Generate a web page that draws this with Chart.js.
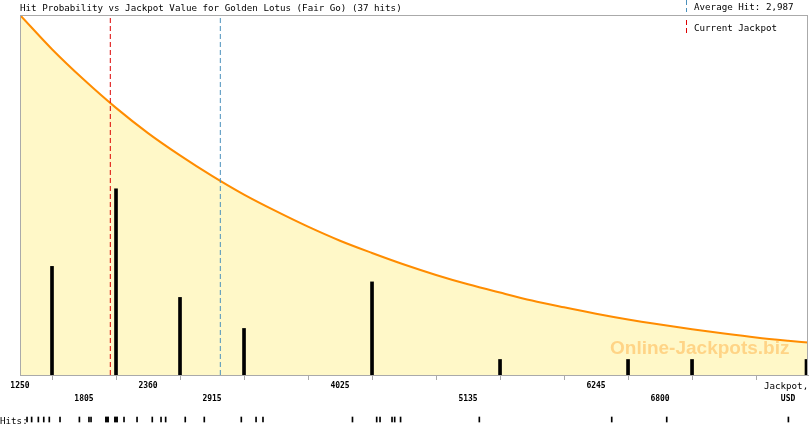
<!DOCTYPE html>
<html>
<head>
<meta charset="utf-8">
<script src="https://cdn.jsdelivr.net/npm/chart.js@4.4.0/dist/chart.umd.min.js"></script>
<style>
html,body{margin:0;padding:0;background:#fff;}
#wrap{width:810px;height:425px;position:relative;}
</style>
</head>
<body>
<div id="wrap"><canvas id="c" width="810" height="425"></canvas></div>
<script>
// ---- data ----
const titleText = 'Hit Probability vs Jackpot Value for Golden Lotus (Fair Go) (37 hits)';
const averageHit = 2987;
const currentJackpot = 2033;
const xMin = 1250, xMax = 8083;
const tickValues = [1250,1805,2360,2915,3470,4025,4580,5135,5690,6245,6800,7355,7910];
const tickLabels = ['1250','1805','2360','2915','','4025','','5135','','6245','6800','','USD'];
const tickRows   = [1,2,1,2,0,1,0,2,0,1,2,0,2];
const binCenters = [1527.5,2082.5,2637.5,3192.5,4302.5,5412.5,6522.5,7077.5,8070];
const binHits    = [7,12,5,3,6,1,1,1,1];
const curveX = [1250,1527.5,1805,2082.5,2360,2637.5,2915,3192.5,3470,3747.5,4025,4302.5,4580,4857.5,5135,5412.5,5690,5967.5,6245,6522.5,6800,7077.5,7355,7632.5,7910,8083];
const curveP = [1.000,0.905,0.820,0.742,0.672,0.610,0.553,0.501,0.455,0.412,0.373,0.339,0.307,0.278,0.252,0.229,0.207,0.188,0.170,0.154,0.140,0.127,0.115,0.104,0.095,0.090];
const hitValues = [1311,1351,1409,1456,1504,1597,1765,1848,1866,1996,1996,2013,2013,2074,2074,2091,2091,2152,2265,2397,2473,2513,2683,2848,3169,3297,3357,4133,4343,4372,4476,4499,4550,5233,6381,6858,7913];

const HIT_MARK = [-0.1167, -0.1306]; // probability-axis span of the hit strip marks (below the plot)
const BAR_MAX = 23.2;

const overlay = {
  id:'overlay',
  afterDatasetDraw(chart, args){
    if (args.index !== 0) return;
    const ctx = chart.ctx;
    ctx.save();
    ctx.font = 'bold 19px "Liberation Sans", Arial, sans-serif';
    ctx.fillStyle = '#FFD486';
    ctx.textAlign = 'left'; ctx.textBaseline = 'alphabetic';
    ctx.fillText('Online-Jackpots.biz', 610, 354);
    ctx.restore();
  },
  afterDraw(chart){
    const ctx = chart.ctx, a = chart.chartArea, xs = chart.scales.x;
    ctx.save();
    ctx.strokeStyle = '#AAAAAA'; ctx.lineWidth = 1;
    ctx.strokeRect(Math.round(a.left)+0.5, Math.round(a.top)+0.5, Math.round(a.right-a.left)-1, Math.round(a.bottom-a.top));
    ctx.fillStyle = '#000';
    ctx.font = '9.2px "DejaVu Sans Mono", monospace';
    ctx.textBaseline = 'alphabetic'; ctx.textAlign = 'left';
    ctx.fillText(titleText, 20, 11);
    ctx.fillText('Average Hit: ' + averageHit.toLocaleString('en-US'), 694, 10);
    ctx.fillText('Current Jackpot', 694, 31);
    ctx.fillText('Hits:', 0, 424);
    ctx.textAlign = 'center';
    ctx.fillText('Jackpot,', xs.getPixelForValue(tickValues[tickValues.length-1]) - 2, 389);
    // legend markers
    ctx.lineWidth = 1;
    ctx.setLineDash([5,3]);
    ctx.strokeStyle = '#4A90BC';
    ctx.beginPath(); ctx.moveTo(686.5, 0); ctx.lineTo(686.5, 12); ctx.stroke();
    ctx.strokeStyle = '#DD0000';
    ctx.beginPath(); ctx.moveTo(686.5, 20); ctx.lineTo(686.5, 34); ctx.stroke();
    ctx.restore();
  }
};

new Chart(document.getElementById('c'), {
  type: 'bar',
  data: {
    datasets: [
      {
        type:'line', label:'curve', order:3, yAxisID:'yp',
        data: curveX.map((x,i)=>({x:x, y:curveP[i]})),
        borderColor:'#FF8C00', borderWidth:2, backgroundColor:'#FFF8C8',
        fill:'origin', pointRadius:0, tension:0.4, cubicInterpolationMode:'monotone'
      },
      {
        type:'bar', label:'hits per bin', order:2, yAxisID:'y', grouped:false,
        data: binCenters.map((x,i)=>({x:x, y:binHits[i]})),
        backgroundColor:'#000', barThickness:3, borderWidth:0
      },
      {
        type:'line', label:'current', order:1, yAxisID:'yp',
        data:[{x:currentJackpot,y:0},{x:currentJackpot,y:1}],
        borderColor:'#DD0000', borderWidth:1, borderDash:[5,3], pointRadius:0, fill:false
      },
      {
        type:'line', label:'average', order:1, yAxisID:'yp',
        data:[{x:averageHit,y:0},{x:averageHit,y:1}],
        borderColor:'#4A90BC', borderWidth:1, borderDash:[5,3], pointRadius:0, fill:false
      },
      {
        type:'bar', label:'hits', order:0, yAxisID:'yp', clip:false, grouped:false,
        data: hitValues.map(v=>({x:v, y:HIT_MARK})),
        backgroundColor:'#000', barThickness:1, borderWidth:0
      }
    ]
  },
  options: {
    responsive:false, animation:false, devicePixelRatio:1,
    layout:{padding:{left:20, right:2, top:15, bottom:0}},
    plugins:{legend:{display:false}, tooltip:{enabled:false}, title:{display:false}},
    scales:{
      x:{
        type:'linear', min:xMin, max:xMax, offset:false,
        afterBuildTicks(s){ s.ticks = tickValues.map(v=>({value:v})); },
        afterFit(s){ s.height = 50; s.paddingLeft = 0; s.paddingRight = 0; },
        grid:{drawOnChartArea:false, drawTicks:true, tickLength:5, color:'#AAAAAA'},
        border:{display:true, color:'#AAAAAA'},
        ticks:{
          autoSkip:false, maxRotation:0, minRotation:0, padding:-1, color:'#000',
          font:{family:'"DejaVu Sans Mono", monospace', size:8, weight:'bold', lineHeight:'13px'},
          callback(v, i){
            const r = tickRows[i], t = tickLabels[i];
            if (r===1) return [t, ''];
            if (r===2) return ['', t];
            return '';
          }
        }
      },
      y:{display:false, min:0, max:BAR_MAX},
      yp:{display:false, min:0, max:1}
    }
  },
  plugins:[overlay]
});
</script>
</body>
</html>
